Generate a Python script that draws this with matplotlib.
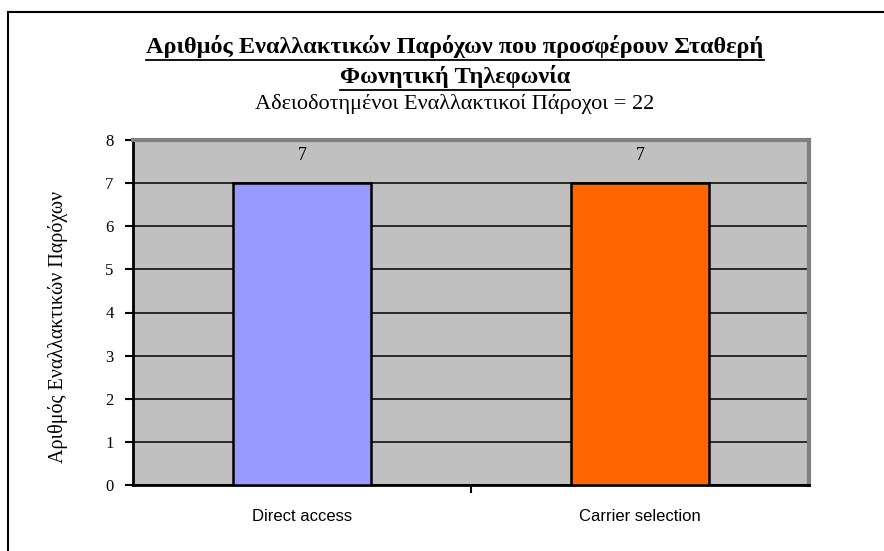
import matplotlib
matplotlib.use("Agg")
import matplotlib.pyplot as plt
from matplotlib.lines import Line2D

categories = ["Direct access", "Carrier selection"]
values = [7, 7]
colors = ["#9999FF", "#FF6600"]
yticks = [0, 1, 2, 3, 4, 5, 6, 7, 8]

title1 = "Αριθμός Εναλλακτικών Παρόχων που προσφέρουν Σταθερή"
title2 = "Φωνητική Τηλεφωνία"
title3 = "Αδειοδοτημένοι Εναλλακτικοί Πάροχοι = 22"
ylabel = "Αριθμός Εναλλακτικών Παρόχων"

W, H = 884, 551
fig = plt.figure(figsize=(W / 100, H / 100), dpi=100)
fig.patch.set_facecolor("white")

# outer frame
fig.add_artist(Line2D([8 / W, 1.0], [1 - 12 / H, 1 - 12 / H], transform=fig.transFigure, color="black", lw=1.5))
fig.add_artist(Line2D([8 / W, 8 / W], [0, 1 - 12 / H], transform=fig.transFigure, color="black", lw=1.5))

left, right, top, bottom = 133, 809, 140, 485
ax = fig.add_axes([left / W, 1 - bottom / H, (right - left) / W, (bottom - top) / H])
ax.set_facecolor("#C0C0C0")

x = range(len(categories))
bars = ax.bar(x, values, width=0.41, color=colors, edgecolor="black", linewidth=1.8, zorder=3)
ax.set_xlim(-0.5, len(categories) - 0.5)
ax.set_ylim(0, 8)
ax.set_yticks(yticks)
ax.set_yticklabels([str(t) for t in yticks], family="Liberation Serif", fontsize=12)
ax.yaxis.grid(True, color="black", lw=1.1, zorder=1)
ax.set_axisbelow(True)

ax.set_xticks([0.5])
ax.set_xticklabels([""])
ax.tick_params(axis="x", length=6, width=1.5, direction="out")
ax.tick_params(axis="y", length=6, width=1.5, direction="out", pad=8)
for i, c in enumerate(categories):
    ax.text(i, -0.55, c, ha="center", va="top", family="Liberation Sans", fontsize=12)

for i, v in enumerate(values):
    ax.text(i, v + 0.45, str(v), ha="center", va="bottom", family="Liberation Serif", fontsize=13)

for s in ["left", "bottom"]:
    ax.spines[s].set_color("black")
    ax.spines[s].set_linewidth(2)
for s in ["top", "right"]:
    ax.spines[s].set_color("#808080")
    ax.spines[s].set_linewidth(3)

ax.set_ylabel(ylabel, family="Liberation Serif", fontsize=14.5, va="center")
ax.yaxis.set_label_coords((58 - left) / (right - left), (bottom - 327) / (bottom - top))

cx = 455 / W
fig.text(cx, 1 - 47 / H, title1, ha="center", va="center", family="Liberation Serif",
         fontsize=17.5, fontweight="bold")
fig.text(cx, 1 - 77 / H, title2, ha="center", va="center", family="Liberation Serif",
         fontsize=17.5, fontweight="bold")
fig.text(cx, 1 - 104 / H, title3, ha="center", va="center", family="Liberation Serif",
         fontsize=16)

fig.canvas.draw()
r = fig.canvas.get_renderer()
for t in fig.texts[:2]:
    bb = t.get_window_extent(r)
    yline = bb.y0 - 1
    fig.add_artist(Line2D([bb.x0 / W, bb.x1 / W], [yline / H, yline / H], transform=fig.transFigure,
                          color="black", lw=1.3))

fig.savefig("out.png", dpi=100)
